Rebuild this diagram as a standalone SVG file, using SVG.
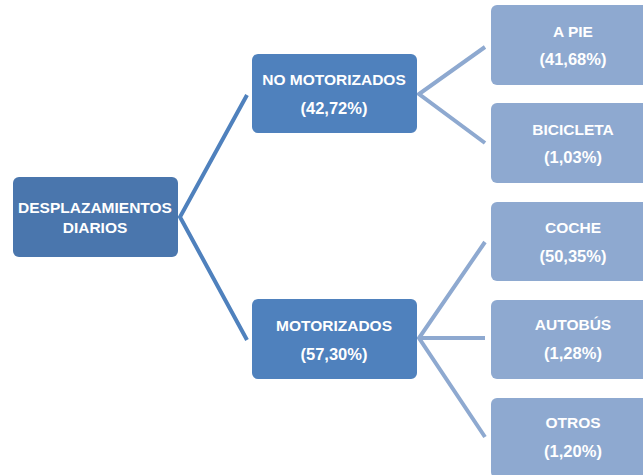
<svg xmlns="http://www.w3.org/2000/svg" width="643" height="475" viewBox="0 0 643 475">
<style>
.root{fill:#4A76AD}
.mid{fill:#4F81BD}
.leaf{fill:#8EA9D0}
.t{font-family:"Liberation Sans",Arial,sans-serif;font-weight:bold;font-size:15.5px;fill:#FFFFFF;text-anchor:middle}
.p{font-size:16.5px}
.c1{stroke:#4F81BD;stroke-width:4;fill:none}
.c2{stroke:#8EA9D0;stroke-width:4;fill:none}
</style>
<rect width="643" height="475" fill="#FFFFFF"/>
<g id="connectors">
<path class="c1" d="M247,95 L180,217 L247,340"/>
<path class="c2" d="M485,47 L419,94 L485,143"/>
<path class="c2" d="M485,242 L419,338 L485,437 M419,338 L485,338"/>
</g>
<g id="root">
<rect class="root" x="13" y="177" width="165" height="80" rx="6"/>
<text class="t" x="95" y="213">DESPLAZAMIENTOS</text>
<text class="t" x="95" y="233">DIARIOS</text>
</g>
<g id="no-motorizados">
<rect class="mid" x="252" y="54" width="165" height="79" rx="6"/>
<text class="t" x="334" y="85">NO MOTORIZADOS</text>
<text class="t p" x="334" y="114">(42,72%)</text>
</g>
<g id="motorizados">
<rect class="mid" x="252" y="299" width="165" height="80" rx="6"/>
<text class="t" x="334" y="331">MOTORIZADOS</text>
<text class="t p" x="334" y="360">(57,30%)</text>
</g>
<g id="a-pie">
<rect class="leaf" x="491" y="5" width="165" height="80" rx="6"/>
<text class="t" x="573" y="37">A PIE</text>
<text class="t p" x="573" y="65">(41,68%)</text>
</g>
<g id="bicicleta">
<rect class="leaf" x="491" y="103" width="165" height="80" rx="6"/>
<text class="t" x="573" y="135">BICICLETA</text>
<text class="t p" x="573" y="163">(1,03%)</text>
</g>
<g id="coche">
<rect class="leaf" x="491" y="202" width="165" height="79" rx="6"/>
<text class="t" x="573" y="233">COCHE</text>
<text class="t p" x="573" y="262">(50,35%)</text>
</g>
<g id="autobus">
<rect class="leaf" x="491" y="300" width="165" height="79" rx="6"/>
<text class="t" x="573" y="330">AUTOBÚS</text>
<text class="t p" x="573" y="359">(1,28%)</text>
</g>
<g id="otros">
<rect class="leaf" x="491" y="398" width="165" height="80" rx="6"/>
<text class="t" x="573" y="428">OTROS</text>
<text class="t p" x="573" y="457">(1,20%)</text>
</g>
</svg>
